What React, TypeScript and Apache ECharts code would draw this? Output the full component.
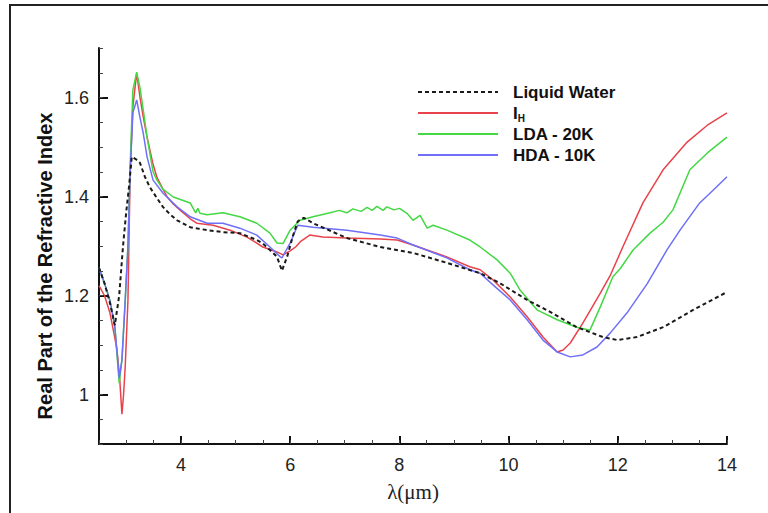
import React, { useEffect, useRef } from "react";
import * as echarts from "echarts";

// Tick labels
const xTickValues = [4, 6, 8, 10, 12, 14];
const yTickValues = [1, 1.2, 1.4, 1.6];

// Real part of the refractive index vs wavelength (µm): [lambda, n]
const liquidWater = [
  [2.5, 1.256], [2.6, 1.225], [2.7, 1.185], [2.79, 1.14], [2.87, 1.2], [2.94, 1.3],
  [3.0, 1.37], [3.05, 1.42], [3.1, 1.48], [3.18, 1.475], [3.25, 1.468], [3.34, 1.44],
  [3.43, 1.419], [3.56, 1.397], [3.67, 1.379], [3.8, 1.364], [3.93, 1.352], [4.17, 1.338],
  [4.48, 1.332], [4.77, 1.328], [5.08, 1.326], [5.39, 1.312], [5.5, 1.305], [5.63, 1.292],
  [5.76, 1.278], [5.85, 1.25], [5.95, 1.28], [6.05, 1.32], [6.14, 1.35], [6.25, 1.357],
  [6.42, 1.346], [7.04, 1.316], [7.65, 1.298], [8.25, 1.286], [8.87, 1.266], [9.48, 1.245],
  [9.84, 1.225], [10.34, 1.191], [10.76, 1.167], [11.25, 1.136], [11.73, 1.116], [11.99, 1.11],
  [12.35, 1.116], [12.83, 1.136], [13.38, 1.171], [14, 1.207],
];

const iceIh = [
  [2.5, 1.22], [2.6, 1.2], [2.7, 1.165], [2.78, 1.12], [2.83, 1.09], [2.88, 1.03],
  [2.92, 0.96], [2.95, 1.0], [2.98, 1.056], [3.03, 1.19], [3.07, 1.447], [3.12, 1.581],
  [3.19, 1.649], [3.25, 1.601], [3.31, 1.561], [3.38, 1.52], [3.49, 1.465], [3.56, 1.439],
  [3.67, 1.415], [3.75, 1.399], [3.86, 1.385], [3.98, 1.373], [4.17, 1.355], [4.29, 1.346],
  [4.59, 1.342], [4.9, 1.332], [5.21, 1.318], [5.5, 1.298], [5.76, 1.288], [5.87, 1.282],
  [6.0, 1.29], [6.1, 1.298], [6.2, 1.31], [6.36, 1.322], [6.6, 1.318], [7.04, 1.316],
  [7.65, 1.314], [7.96, 1.312], [8.25, 1.302], [8.87, 1.278], [9.29, 1.258], [9.48, 1.252],
  [9.72, 1.231], [10.03, 1.197], [10.34, 1.157], [10.63, 1.116], [10.89, 1.086], [11.0, 1.09],
  [11.13, 1.104], [11.36, 1.144], [11.68, 1.205], [11.86, 1.24], [12.1, 1.3], [12.46, 1.387],
  [12.83, 1.454], [13.27, 1.51], [13.64, 1.544], [14, 1.569],
];

const lda20K = [
  [2.5, 1.256], [2.6, 1.225], [2.7, 1.19], [2.79, 1.137], [2.87, 1.023], [2.92, 1.07],
  [2.98, 1.19], [3.03, 1.3], [3.07, 1.46], [3.12, 1.615], [3.19, 1.651], [3.25, 1.62],
  [3.31, 1.575], [3.38, 1.52], [3.49, 1.45], [3.56, 1.433], [3.67, 1.415], [3.86, 1.399],
  [4.17, 1.387], [4.27, 1.367], [4.31, 1.376], [4.35, 1.366], [4.48, 1.363], [4.77, 1.367],
  [5.08, 1.359], [5.39, 1.346], [5.63, 1.326], [5.76, 1.306], [5.87, 1.305], [6.0, 1.332],
  [6.18, 1.352], [6.42, 1.359], [6.73, 1.367], [6.9, 1.372], [7.04, 1.367], [7.15, 1.375],
  [7.3, 1.37], [7.41, 1.378], [7.5, 1.372], [7.59, 1.38], [7.7, 1.372], [7.77, 1.379],
  [7.9, 1.373], [8.0, 1.376], [8.14, 1.366], [8.25, 1.352], [8.38, 1.362], [8.51, 1.336],
  [8.62, 1.342], [8.87, 1.332], [9.29, 1.312], [9.48, 1.298], [9.79, 1.272], [10.03, 1.245],
  [10.21, 1.211], [10.52, 1.171], [10.89, 1.151], [11.25, 1.136], [11.49, 1.13], [11.68, 1.177],
  [11.91, 1.238], [12.05, 1.255], [12.28, 1.292], [12.59, 1.326], [12.83, 1.348], [13.01, 1.373],
  [13.32, 1.454], [13.64, 1.488], [14, 1.52],
];

const hda10K = [
  [2.5, 1.256], [2.6, 1.225], [2.7, 1.19], [2.79, 1.137], [2.87, 1.033], [2.92, 1.07],
  [2.98, 1.19], [3.03, 1.3], [3.07, 1.447], [3.12, 1.569], [3.19, 1.595], [3.25, 1.56],
  [3.31, 1.528], [3.38, 1.48], [3.49, 1.433], [3.67, 1.407], [3.93, 1.379], [4.17, 1.359],
  [4.48, 1.346], [4.77, 1.346], [5.08, 1.336], [5.39, 1.322], [5.63, 1.298], [5.82, 1.278],
  [5.85, 1.276], [6.0, 1.306], [6.14, 1.342], [6.42, 1.338], [7.04, 1.332], [7.65, 1.322],
  [7.96, 1.316], [8.25, 1.302], [8.87, 1.276], [9.29, 1.252], [9.48, 1.245], [9.72, 1.221],
  [10.03, 1.191], [10.34, 1.151], [10.63, 1.11], [10.89, 1.086], [11.13, 1.076], [11.36, 1.08],
  [11.62, 1.096], [11.86, 1.124], [12.17, 1.165], [12.54, 1.224], [12.9, 1.292], [13.14, 1.332],
  [13.5, 1.387], [13.75, 1.413], [14, 1.44],
];

const SANS = "'Liberation Sans', Arial, sans-serif";
const SERIF = "'Liberation Serif', 'Times New Roman', serif";

export default function App() {
  const ref = useRef<HTMLDivElement>(null);

  useEffect(() => {
    if (!ref.current) return;
    const chart = echarts.init(ref.current, null, { renderer: "svg" });

    const lineSeries = (name: string, data: number[][], color: string, extra: any = {}) => ({
      name,
      type: "line",
      data,
      xAxisIndex: 0,
      yAxisIndex: 0,
      symbol: "none",
      smooth: false,
      lineStyle: { color, width: 1.5, ...extra },
      itemStyle: { color },
    });

    chart.setOption({
      animation: false,
      backgroundColor: "#ffffff",
      grid: { left: 99, top: 48, right: 41, bottom: 69, containLabel: false },
      legend: {
        orient: "vertical",
        left: 417,
        top: 82,
        padding: 0,
        itemWidth: 80,
        itemHeight: 14,
        itemGap: 1,
        itemStyle: { opacity: 0 },
        data: ["Liquid Water", "I_H", "LDA - 20K", "HDA - 10K"],
        formatter: (name: string) => (name === "I_H" ? "{i|I}{h|H}" : name),
        textStyle: {
          fontFamily: SANS,
          fontSize: 17,
          fontWeight: "bold",
          color: "#111",
          lineHeight: 20,
          padding: [0, 0, 0, 10],
          rich: {
            i: { fontFamily: SANS, fontSize: 17, fontWeight: "bold", color: "#111", lineHeight: 20 },
            h: {
              fontFamily: SANS,
              fontSize: 10,
              fontWeight: "bold",
              color: "#111",
              lineHeight: 10,
              verticalAlign: "bottom",
            },
          },
        },
      },
      xAxis: [
        {
          type: "value",
          min: 2.5,
          max: 14,
          axisLine: { show: true, lineStyle: { color: "#111", width: 2 } },
          axisTick: {
            show: true,
            inside: true,
            length: 8,
            customValues: xTickValues,
            lineStyle: { color: "#111", width: 2 },
          },
          axisLabel: {
            customValues: xTickValues,
            fontFamily: SANS,
            fontSize: 18,
            color: "#222",
            margin: 12,
          },
          splitLine: { show: false },
        },
        {
          type: "value",
          min: 2.5,
          max: 14,
          interval: 0.5,
          position: "bottom",
          axisLine: { show: false },
          axisTick: { show: true, inside: true, length: 4, lineStyle: { color: "#444", width: 1 } },
          axisLabel: { show: false },
          splitLine: { show: false },
        },
      ],
      yAxis: [
        {
          type: "value",
          min: 0.9,
          max: 1.7,
          axisLine: { show: true, lineStyle: { color: "#111", width: 2 } },
          axisTick: {
            show: true,
            inside: true,
            length: 9,
            customValues: yTickValues,
            lineStyle: { color: "#111", width: 2 },
          },
          axisLabel: {
            customValues: yTickValues,
            fontFamily: SANS,
            fontSize: 18,
            color: "#222",
            margin: 10,
          },
          splitLine: { show: false },
        },
        {
          type: "value",
          min: 0.9,
          max: 1.7,
          interval: 0.05,
          position: "left",
          axisLine: { show: false },
          axisTick: { show: true, inside: true, length: 4, lineStyle: { color: "#444", width: 1 } },
          axisLabel: { show: false },
          splitLine: { show: false },
        },
      ],
      series: [
        lineSeries("I_H", iceIh, "#e8434a"),
        lineSeries("LDA - 20K", lda20K, "#44d844"),
        lineSeries("HDA - 10K", hda10K, "#6f6ff8"),
        lineSeries("Liquid Water", liquidWater, "#1a1a1a", { width: 2, type: [4, 3] }),
      ],
      graphic: [
        {
          type: "line",
          shape: { x1: 9, y1: 5, x2: 768, y2: 5 },
          style: { stroke: "#222", lineWidth: 2 },
          silent: true,
        },
        {
          type: "line",
          shape: { x1: 10, y1: 4, x2: 10, y2: 513 },
          style: { stroke: "#222", lineWidth: 2 },
          silent: true,
        },
        {
          type: "text",
          x: 45,
          y: 266,
          rotation: Math.PI / 2,
          style: {
            text: "Real Part of the Refractive Index",
            fontFamily: SANS,
            fontSize: 20,
            fontWeight: "bold",
            fill: "#111",
            align: "center",
            verticalAlign: "middle",
          },
          silent: true,
        },
        {
          type: "text",
          x: 413,
          y: 492,
          style: {
            text: "λ(μm)",
            fontFamily: SERIF,
            fontSize: 21,
            fill: "#222",
            align: "center",
            verticalAlign: "middle",
          },
          silent: true,
        },
      ],
    });

    return () => chart.dispose();
  }, []);

  return (
    <div
      ref={ref}
      style={{ position: "absolute", left: 0, top: 0, width: 768, height: 513, background: "#fff" }}
    />
  );
}
